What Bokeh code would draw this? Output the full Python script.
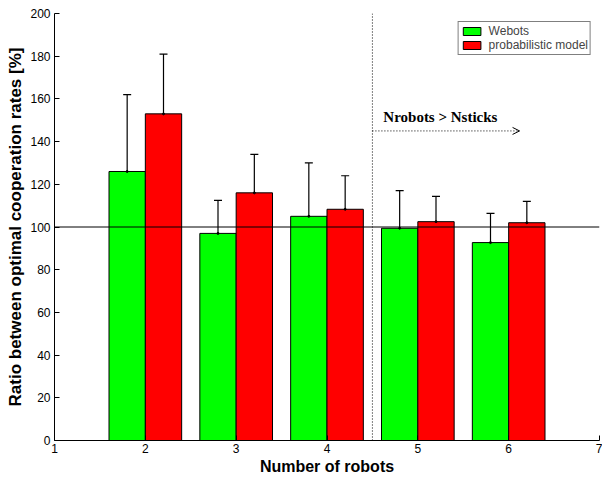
from bokeh.plotting import figure
from bokeh.models import ColumnDataSource, Whisker, Span, Label, Arrow, OpenHead, Legend, LegendItem, FixedTicker, TeeHead
from bokeh.embed import file_html
from bokeh.resources import INLINE

robots = [2, 3, 4, 5, 6]
webots = [126, 97, 105, 99.4, 92.7]
webots_hi = [162, 112.5, 130, 117, 106.4]
webots_lo = [90, 81, 79.8, 81.6, 78.8]
model = [153, 116, 108.3, 102.5, 102]
model_hi = [181, 134, 124, 114.3, 112]
model_lo = [125, 98.5, 92.4, 90.8, 91.9]
x_ticks = [1, 2, 3, 4, 5, 6, 7]
y_ticks = [0, 20, 40, 60, 80, 100, 120, 140, 160, 180, 200]
series_names = ["Webots", "probabilistic model"]
threshold = 4.5
reference_level = 100
annotation = "Nrobots > Nsticks"

BW = 0.4
wx = [r - BW / 2 for r in robots]
mx = [r + BW / 2 for r in robots]

p = figure(width=602, height=477, x_range=(1, 7), y_range=(0, 200),
           output_backend="svg", toolbar_location=None,
           min_border_left=54, min_border_top=13, min_border_right=3, min_border_bottom=36)
p.outline_line_color = None
p.xgrid.visible = False
p.ygrid.visible = False
p.background_fill_color = "white"

src_w = ColumnDataSource(dict(x=wx, top=webots, hi=webots_hi, lo=webots_lo))
src_m = ColumnDataSource(dict(x=mx, top=model, hi=model_hi, lo=model_lo))

rw = p.vbar(x="x", top="top", width=BW, bottom=0, source=src_w,
            fill_color="#00ff00", line_color="black", line_width=1)
rm = p.vbar(x="x", top="top", width=BW, bottom=0, source=src_m,
            fill_color="#ff0000", line_color="black", line_width=1)

for src in (src_w, src_m):
    w = Whisker(base="x", upper="hi", lower="lo", source=src, line_color="black", line_width=1.2,
                upper_head=TeeHead(size=8, line_color="black", line_width=1.2),
                lower_head=TeeHead(size=8, line_color="black", line_width=1.2))
    p.add_layout(w)
    p.scatter(x="x", y="top", source=src, size=2, color="black")

p.add_layout(Span(location=reference_level, dimension="width", line_color="black", line_width=1))
p.add_layout(Span(location=threshold, dimension="height", line_color="black", line_width=1, line_dash="1 2"))

p.add_layout(Arrow(x_start=threshold, y_start=145, x_end=6.12, y_end=145,
                   line_color="black", line_width=1, line_dash="1 2",
                   end=OpenHead(size=7, line_color="black", line_width=1)))
p.add_layout(Label(x=4.62, y=148, text=annotation, text_font="Liberation Serif",
                   text_font_style="bold", text_font_size="15px", text_color="black"))

for ax in (p.xaxis[0], p.yaxis[0]):
    ax.major_tick_in = 5
    ax.major_tick_out = 0
    ax.minor_tick_line_color = None
    ax.axis_line_color = "black"
    ax.major_tick_line_color = "black"
    ax.major_label_text_font = "Liberation Sans"
    ax.major_label_text_font_size = "12px"
    ax.major_label_text_color = "black"
    ax.axis_label_text_font = "Liberation Sans"
    ax.axis_label_text_font_style = "bold"
    ax.axis_label_text_color = "black"

p.xaxis.ticker = FixedTicker(ticks=x_ticks)
p.yaxis.ticker = FixedTicker(ticks=y_ticks)
p.xaxis.axis_label = "Number of robots"
p.yaxis.axis_label = "Ratio between optimal cooperation rates [%]"
p.xaxis.axis_label_text_font_size = "16px"
p.yaxis.axis_label_text_font_size = "17px"
p.xaxis.major_label_standoff = 3
p.yaxis.major_label_standoff = 4
p.xaxis.axis_label_standoff = 2
p.yaxis.axis_label_standoff = 2

legend = Legend(items=[LegendItem(label=series_names[0], renderers=[rw]),
                       LegendItem(label=series_names[1], renderers=[rm])],
                location="top_right")
legend.border_line_color = "black"
legend.border_line_width = 1.3
legend.label_text_font = "Liberation Sans"
legend.label_text_font_size = "12px"
legend.label_text_line_height = 0.9
legend.glyph_width = 22
legend.glyph_height = 10
legend.label_height = 10
legend.spacing = 0
legend.padding = 2
legend.margin = 8
legend.label_standoff = 6
legend.background_fill_alpha = 1
p.add_layout(legend)

open("out.html", "w").write(file_html(p, INLINE))
